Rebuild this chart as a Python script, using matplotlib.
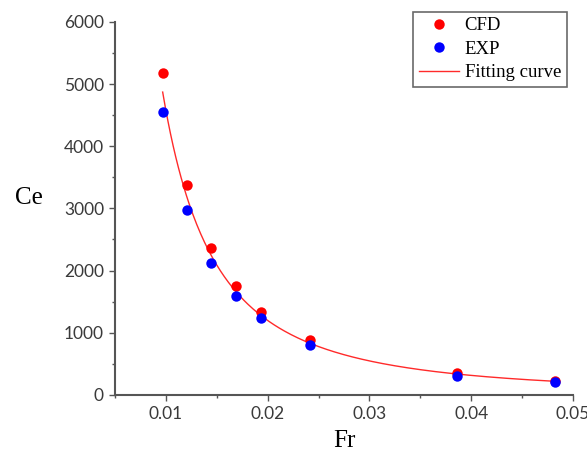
import numpy as np
import matplotlib.pyplot as plt
from matplotlib.ticker import MultipleLocator

plt.rcParams['font.family'] = ['Liberation Serif', 'DejaVu Serif']

# data
fr = [0.00968, 0.01206, 0.01443, 0.01692, 0.01932, 0.02414, 0.0386, 0.0482]
ce_cfd = [5180, 3380, 2370, 1750, 1340, 880, 350, 230]
ce_exp = [4550, 2980, 2120, 1590, 1230, 800, 310, 210]

# power-law fit Ce = a * Fr^b over both series
x_all = np.log(np.array(fr + fr))
y_all = np.log(np.array(ce_cfd + ce_exp))
b, log_a = np.polyfit(x_all, y_all, 1)
fr_fit = np.linspace(min(fr), max(fr), 300)
ce_fit = np.exp(log_a) * fr_fit ** b

fig = plt.figure(figsize=(5.87, 4.57), dpi=100)
ax = fig.add_axes([0.196, 0.136, 0.780, 0.816])

ax.plot(fr_fit, ce_fit, color='#ff2a2a', lw=1.0, label='Fitting curve', zorder=2)
ax.plot(fr, ce_cfd, 'o', color='#ff0000', ms=7.5, mec='none', label='CFD', zorder=3)
ax.plot(fr, ce_exp, 'o', color='#0000ff', ms=7.5, mec='none', label='EXP', zorder=4)

ax.set_xlim(0.005, 0.05)
ax.set_ylim(0, 6000)
ax.xaxis.set_major_locator(MultipleLocator(0.01))
ax.xaxis.set_minor_locator(MultipleLocator(0.005))
ax.yaxis.set_major_locator(MultipleLocator(1000))
ax.yaxis.set_minor_locator(MultipleLocator(500))

ax.spines['top'].set_visible(False)
ax.spines['right'].set_visible(False)
for s in ['left', 'bottom']:
    ax.spines[s].set_color('#555555')
    ax.spines[s].set_linewidth(1.5)
ax.tick_params(which='major', direction='out', length=4.5, width=1, color='#555555',
               labelsize=12.5, labelcolor='#3a3a3a', pad=3.5)
ax.tick_params(which='minor', direction='out', length=2.5, width=1, color='#555555')
for lbl in ax.get_xticklabels() + ax.get_yticklabels():
    lbl.set_family('Lato')

ax.set_xlabel('Fr', fontsize=18, labelpad=6)
ax.set_ylabel('Ce', fontsize=18, rotation=0, va='center', ha='center')
ax.yaxis.set_label_coords(-0.188, 0.528)

handles, labels = ax.get_legend_handles_labels()
order = [1, 2, 0]
leg = ax.legend([handles[i] for i in order], [labels[i] for i in order],
                loc='upper right', bbox_to_anchor=(0.9654, 0.9744), bbox_transform=fig.transFigure,
                fontsize=13.5, frameon=True, fancybox=False, edgecolor='#444444',
                handlelength=2.15, handletextpad=0.3, borderpad=0.3, labelspacing=0.33,
                borderaxespad=0)
leg.get_frame().set_linewidth(1.2)

fig.savefig('out.png', dpi=100)
